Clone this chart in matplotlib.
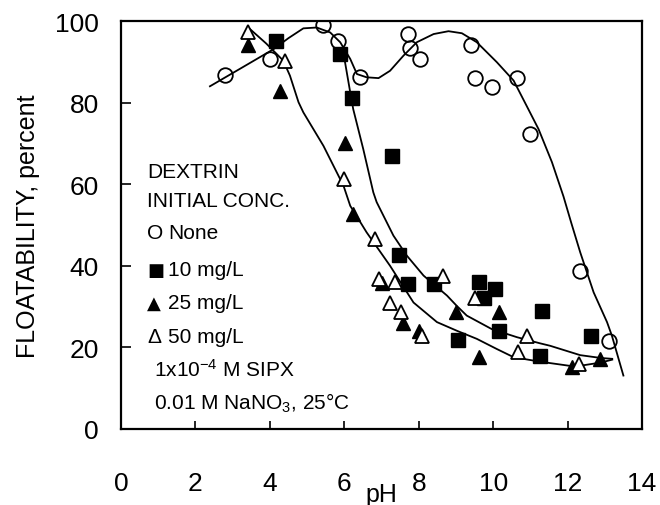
import matplotlib
matplotlib.use("Agg")
import matplotlib.pyplot as plt

plt.rcParams['font.family'] = ['Liberation Sans', 'DejaVu Sans']
plt.rcParams['mathtext.fontset'] = 'custom'
plt.rcParams['mathtext.rm'] = 'Liberation Sans'
plt.rcParams['mathtext.default'] = 'regular'

# ---- data ----
none_ph = [2.8, 4.0, 5.42, 5.82, 6.42, 7.72, 7.77, 8.04, 9.40, 9.52, 9.96, 10.64, 10.98, 12.34, 13.12]
none_fl = [86.8, 90.7, 99.0, 95.2, 86.2, 96.8, 93.3, 90.7, 94.1, 86.0, 83.9, 86.0, 72.3, 38.8, 21.6]

d10_ph = [4.16, 5.89, 6.22, 7.29, 7.48, 7.72, 8.41, 9.06, 9.63, 10.05, 9.75, 10.17, 11.32, 11.26, 12.64]
d10_fl = [95.0, 91.9, 81.1, 66.8, 42.6, 35.6, 35.6, 21.7, 36.1, 34.2, 32.0, 24.0, 29.0, 18.0, 22.9]

d25_ph = [3.40, 4.27, 6.02, 6.23, 7.0, 7.57, 8.02, 8.99, 9.61, 10.17, 12.11, 12.86]
d25_fl = [94.0, 82.8, 70.1, 52.7, 35.7, 26.0, 24.1, 28.6, 17.6, 28.6, 15.3, 17.2]

d50_ph = [3.42, 4.41, 5.98, 6.83, 6.94, 7.37, 7.23, 7.52, 8.08, 8.64, 9.50, 10.92, 10.68, 12.3]
d50_fl = [97.2, 90.3, 61.3, 46.6, 36.8, 36.0, 31.0, 28.6, 22.7, 37.6, 32.1, 22.7, 18.8, 16.0]

# hand-drawn trend curves
curve_none_ph = [2.39, 3.2, 4.1, 4.5, 4.9, 5.26, 5.62, 5.89, 6.16, 6.34, 6.6, 6.92, 7.23, 7.59, 7.95,
                 8.4, 8.8, 9.16, 9.56, 10.1, 10.55, 10.9, 11.22, 11.58, 11.89, 12.1, 12.34, 12.7,
                 13.06, 13.19, 13.5]
curve_none_fl = [84.0, 88.3, 93.1, 95.8, 98.2, 98.4, 97.2, 94.8, 90.7, 87.0, 86.2, 86.0, 87.8, 91.5, 94.8,
                 96.8, 97.5, 97.0, 94.8, 89.9, 85.4, 79.2, 73.5, 65.4, 57.0, 50.5, 43.3, 33.5,
                 26.2, 22.9, 13.1]

curve_10_ph = [5.95, 6.02, 6.16, 6.24, 6.51, 6.78, 6.87, 7.32, 7.68, 8.13, 8.76, 9.02, 9.29, 9.96,
               10.64, 11.26, 11.53, 12.34, 12.9, 13.2]
curve_10_fl = [92.0, 89.9, 82.5, 78.4, 68.6, 58.0, 55.6, 47.4, 42.5, 37.6, 32.7, 30.2, 27.8, 24.5,
               22.5, 21.0, 20.4, 18.1, 17.4, 17.2]

curve_25_ph = [3.42, 3.9, 4.36, 4.54, 4.77, 4.9, 5.44, 5.98, 6.16, 6.6, 7.23, 7.86, 8.49, 9.02,
               9.56, 10.1, 10.55, 11.26, 12.2, 12.9, 13.2]
curve_25_fl = [98.4, 94.5, 90.3, 86.6, 80.1, 77.6, 69.4, 59.6, 54.7, 48.2, 40.0, 31.0, 26.2, 24.1,
               22.1, 19.6, 17.6, 16.5, 15.3, 16.3, 17.0]

header_lines = ["DEXTRIN", "INITIAL CONC."]
header_y = [61.8, 54.7]
legend_syms = ["O", "\u25A0", "\u25B2", "\u0394"]
legend_labels = ["None", "10 mg/L", "25 mg/L", "50 mg/L"]
legend_y = [46.8, 37.7, 29.7, 21.3]
cond_lines = ["1x10$^{-4}$ M SIPX", "0.01 M NaNO$_3$, 25\u00b0C"]
cond_y = [13.0, 4.9]

# ---- figure ----
fig = plt.figure(figsize=(6.6, 5.06), dpi=100)
ax = fig.add_axes([121/660, 76/506, 521/660, 408/506])

lw = 1.3
ax.plot(curve_none_ph, curve_none_fl, color='black', lw=lw, zorder=2)
ax.plot(curve_10_ph, curve_10_fl, color='black', lw=lw, zorder=2)
ax.plot(curve_25_ph, curve_25_fl, color='black', lw=lw, zorder=2)

ms = 10.5
ax.plot(none_ph, none_fl, 'o', ms=ms, mfc='none', mec='black', mew=1.3, zorder=3)
ax.plot(d10_ph, d10_fl, 's', ms=10, mfc='black', mec='black', mew=1.0, zorder=3)
ax.plot(d25_ph, d25_fl, '^', ms=ms, mfc='black', mec='black', mew=1.0, zorder=3)
ax.plot(d50_ph, d50_fl, '^', ms=ms, mfc='white', mec='black', mew=1.3, zorder=4)

fs = 15
for s, y in zip(header_lines, header_y):
    ax.text(0.70, y, s, fontsize=fs, ha='left', va='baseline', zorder=5)
for sym, lab, y in zip(legend_syms, legend_labels, legend_y):
    fam = ['Liberation Sans'] if sym in ("O", "\u0394") else ['DejaVu Sans']
    sfs = fs if sym in ("O", "\u0394") else 13
    ax.text(0.70, y, sym, fontsize=sfs, family=fam, ha='left', va='baseline', zorder=5)
    ax.text(1.26, y, lab, fontsize=fs, ha='left', va='baseline', zorder=5)
for s, y in zip(cond_lines, cond_y):
    ax.text(0.90, y, s, fontsize=fs, ha='left', va='baseline', zorder=5)

ax.set_xlim(0, 14)
ax.set_ylim(0, 100)
ax.set_xticks(range(0, 15, 2))
ax.set_yticks(range(0, 101, 20))
ax.tick_params(axis='x', direction='in', length=6, width=1.2, pad=30, labelsize=19)
ax.tick_params(axis='y', direction='in', length=7, width=1.2, pad=16, labelsize=19)
for sp in ax.spines.values():
    sp.set_linewidth(1.6)

ax.set_xlabel('pH', fontsize=18)
ax.xaxis.set_label_coords(0.5, -0.131)
fig.text(28/660, 1 - 226/506, 'FLOATABILITY, percent', rotation=90, fontsize=18,
         ha='center', va='center')

fig.savefig('out.png', dpi=100)
